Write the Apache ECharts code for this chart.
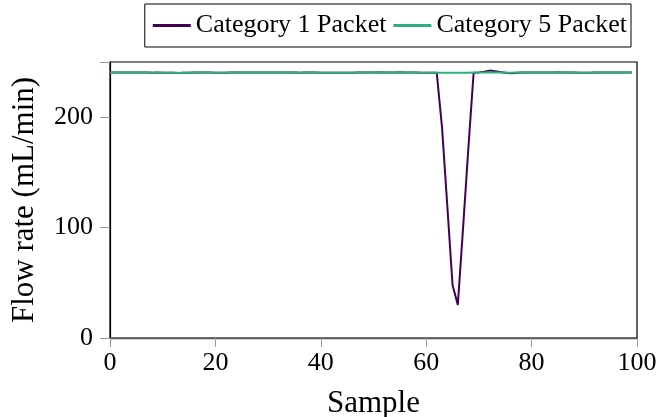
<!DOCTYPE html>
<html>
<head>
<meta charset="utf-8">
<script src="https://cdn.jsdelivr.net/npm/echarts@6/dist/echarts.min.js"></script>
<style>html,body{margin:0;padding:0;background:#fff}#c{width:659px;height:417px}</style>
</head>
<body>
<div id="c"></div>
<script>
var seriesNames = ["Category 1 Packet", "Category 5 Packet"];
var xTicks = [0, 20, 40, 60, 80, 100];
var yTicks = [0, 100, 200];
var cat1 = [
240.5,240.6,240.6,240.5,240.4,240.5,240.5,240.4,240.3,240.4,
240.3,240.3,240.2,240.1,240.2,240.3,240.4,240.4,240.5,240.4,
240.3,240.2,240.3,240.5,240.6,240.5,240.4,240.5,240.6,240.5,
240.4,240.5,240.6,240.6,240.5,240.4,240.3,240.4,240.5,240.4,
240.3,240.2,240.3,240.3,240.2,240.2,240.3,240.4,240.5,240.5,
240.6,240.7,240.6,240.5,240.6,240.7,240.6,240.5,240.4,240.3,
240.2,240.3,240.2,191,120,48,30,100,172,240.3,
240.6,241.2,242.2,241.6,240.9,240.2,239.9,240.1,240.4,240.6,
240.6,240.5,240.4,240.5,240.6,240.7,240.6,240.5,240.4,240.3,
240.2,240.3,240.4,240.5,240.6,240.6,240.5,240.4,240.5,240.6
];
var cat5 = [
240.5,240.6,240.6,240.5,240.4,240.5,240.5,240.4,240.3,240.4,
240.3,240.3,240.2,240.1,240.2,240.3,240.4,240.4,240.5,240.4,
240.3,240.2,240.3,240.5,240.6,240.5,240.4,240.5,240.6,240.5,
240.4,240.5,240.6,240.6,240.5,240.4,240.3,240.4,240.5,240.4,
240.3,240.2,240.3,240.3,240.2,240.2,240.3,240.4,240.5,240.5,
240.6,240.7,240.6,240.5,240.6,240.7,240.6,240.5,240.4,240.3,
240.2,240.3,240.3,240.2,240.2,240.3,240.3,240.2,240.3,240.4,
240.5,240.6,240.7,240.6,240.5,240.4,240.3,240.4,240.5,240.6,
240.6,240.5,240.4,240.5,240.6,240.7,240.6,240.5,240.4,240.3,
240.2,240.3,240.4,240.5,240.6,240.6,240.5,240.4,240.5,240.6
];
var colors = ["#440154", "#2cb17e"];
var FONT = "Liberation Serif";

function pairs(arr){ return arr.map(function(v,i){ return [i, v]; }); }

var chart = echarts.init(document.getElementById('c'), null, {renderer:'canvas'});
chart.setOption({
  animation: false,
  backgroundColor: '#fff',
  textStyle: {fontFamily: FONT},
  grid: {left: 110, right: 22, top: 62, bottom: 79, containLabel: false, outerBoundsMode: 'none',
    show: true, borderColor: '#000', borderWidth: 1.2, backgroundColor: 'transparent'},
  legend: {
    data: seriesNames,
    top: 4, right: 28,
    padding: [8, 4, 8, 8],
    itemGap: 7,
    itemWidth: 38, itemHeight: 3,
    icon: 'rect',
    borderColor: '#000', borderWidth: 1,
    textStyle: {fontFamily: FONT, fontSize: 26, color: '#000', lineHeight: 27}
  },
  xAxis: {
    type: 'value', min: 0, max: 100, interval: 20,
    name: 'Sample', nameLocation: 'middle', nameGap: 50,
    nameTextStyle: {fontFamily: FONT, fontSize: 31, color: '#000'},
    axisLine: {show: true, lineStyle: {color: '#555', width: 1.3}},
    axisTick: {show: true, inside: false, length: 9, lineStyle: {color: '#999'}},
    axisLabel: {fontFamily: FONT, fontSize: 26, color: '#000', margin: 12,
      formatter: function(v){ return xTicks.indexOf(v) >= 0 ? String(v) : ''; }},
    splitLine: {show: false}
  },
  yAxis: {
    type: 'value', min: 0, max: 250, interval: 100,
    name: 'Flow rate (mL/min)', nameLocation: 'middle', nameGap: 70,
    nameTextStyle: {fontFamily: FONT, fontSize: 31, color: '#000'},
    axisLine: {show: true, lineStyle: {color: '#000', width: 1.2}},
    axisTick: {show: true, inside: false, length: 10, lineStyle: {color: '#999'}},
    axisLabel: {fontFamily: FONT, fontSize: 26, color: '#000', margin: 17,
      formatter: function(v){ return yTicks.indexOf(v) >= 0 ? String(v) : ''; }},
    splitLine: {show: false}
  },
  series: [
    {name: seriesNames[0], type: 'line', data: pairs(cat1), symbol: 'none', color: colors[0], lineStyle: {width: 2, color: colors[0]}},
    {name: seriesNames[1], type: 'line', data: pairs(cat5), symbol: 'none', color: colors[1], lineStyle: {width: 2, color: colors[1]}}
  ]
});
</script>
</body>
</html>
